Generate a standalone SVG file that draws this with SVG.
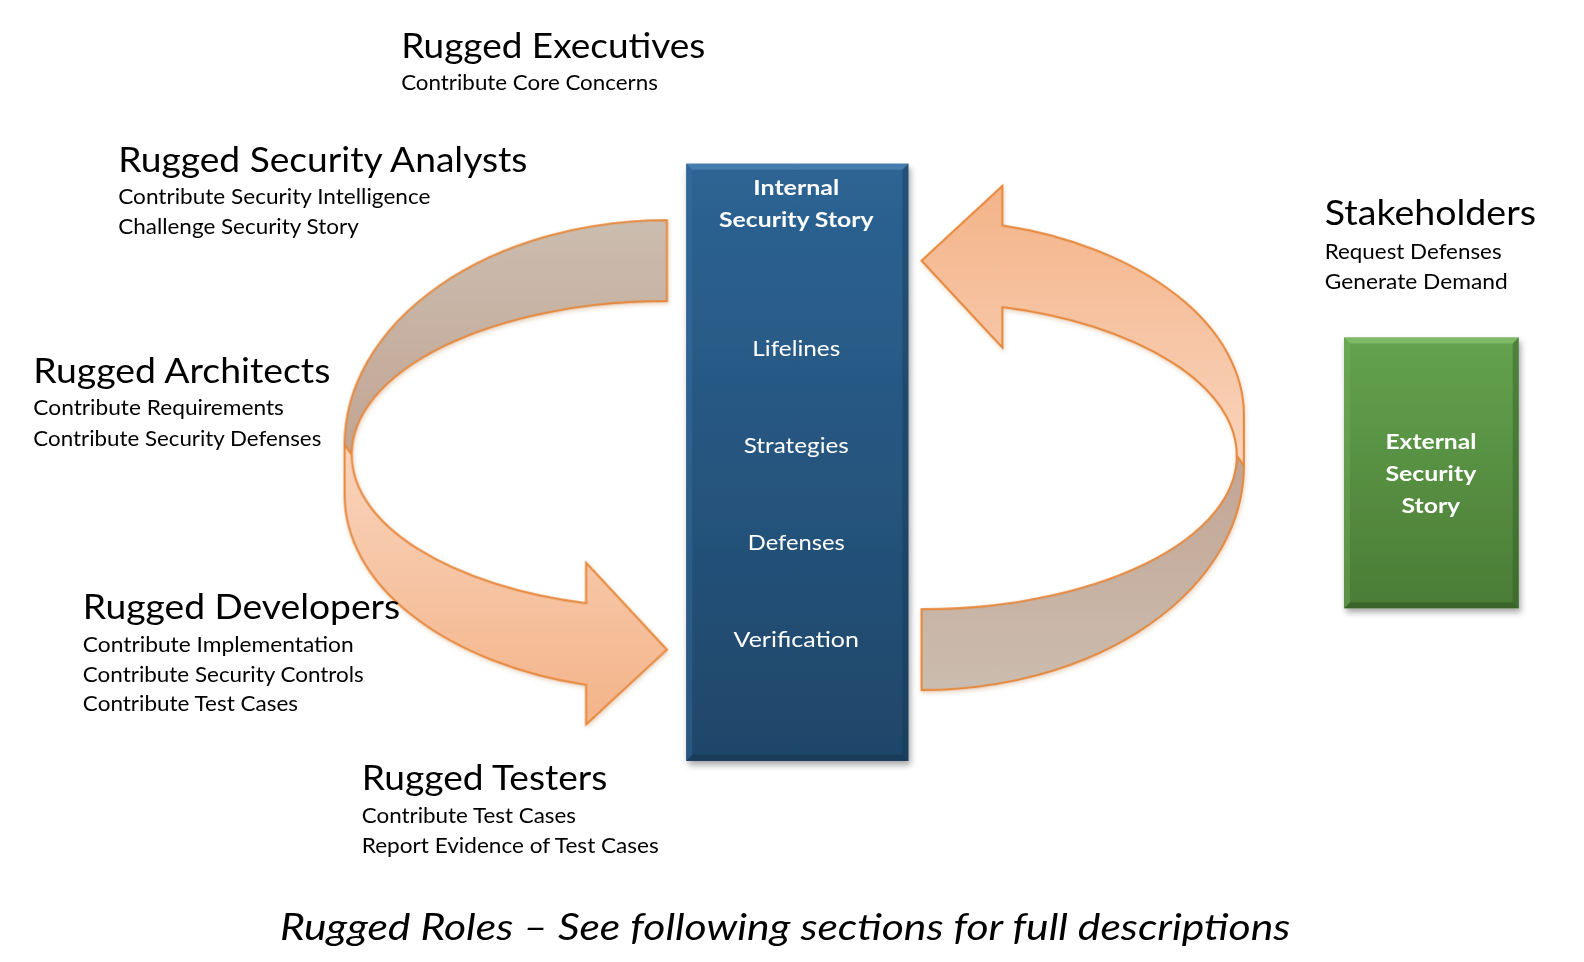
<svg xmlns="http://www.w3.org/2000/svg" width="1584" height="962" viewBox="0 0 1584 962">
<defs>
<style>
.t{font-family:Lato,"Open Sans","Liberation Sans",sans-serif;fill:#000}
.h{font-size:35px}
.s{font-size:21px}
.w{font-family:Lato,"Open Sans","Liberation Sans",sans-serif;fill:#fff;font-size:21px;text-anchor:middle}
.b{font-weight:bold}
.band{stroke:#e6883c;stroke-width:2;stroke-linejoin:miter}
</style>
<linearGradient id="gBack" x1="0" y1="0" x2="0" y2="1">
<stop offset="0" stop-color="#cbbdb0"/>
<stop offset="1" stop-color="#c3a593"/>
</linearGradient>
<linearGradient id="gFront" x1="0" y1="0" x2="0" y2="1">
<stop offset="0" stop-color="#f9d4bd"/>
<stop offset="1" stop-color="#f4b489"/>
</linearGradient>
<linearGradient id="gBlue" x1="0" y1="0" x2="0" y2="1">
<stop offset="0" stop-color="#2d6494"/>
<stop offset="1" stop-color="#1f4669"/>
</linearGradient>
<linearGradient id="gGreen" x1="0" y1="0" x2="0" y2="1">
<stop offset="0" stop-color="#64a24e"/>
<stop offset="1" stop-color="#4a7c36"/>
</linearGradient>
<filter id="sh" x="-10%" y="-10%" width="125%" height="125%">
<feDropShadow dx="2" dy="4" stdDeviation="3" flood-color="#000" flood-opacity="0.35"/>
</filter>
<filter id="ash" x="-10%" y="-10%" width="125%" height="125%">
<feDropShadow dx="1" dy="2" stdDeviation="2" flood-color="#a05a20" flood-opacity="0.25"/>
</filter>
<g id="arrowL">
<path class="band" fill="url(#gBack)" d="M660,218 A319,222 0 0 0 341,440 L348,450 A312,152 0 0 1 660,298 Z"/>
<path class="band" fill="url(#gFront)" d="M341,440 L341,490 A319,194 0 0 0 580,678 L580,717 L660,643 L580,557 L580,597 A312,152 0 0 1 348,450 Z"/>
</g>
</defs>

<g transform="scale(1.0105)">
<g id="connectors" filter="url(#ash)">
<use href="#arrowL"/>
<use href="#arrowL" transform="rotate(180 786 450.5)"/>
</g>

<g id="internal-story">
<rect x="679" y="162" width="220" height="591" fill="url(#gBlue)" filter="url(#sh)"/>
<polygon points="679,162 899,162 893,168 685,168" fill="#4a82b3" opacity="0.8"/>
<polygon points="679,753 899,753 893,747 685,747" fill="#163650" opacity="0.6"/>
<polygon points="679,162 685,168 685,747 679,753" fill="#3a74a6" opacity="0.4"/>
<polygon points="899,162 893,168 893,747 899,753" fill="#163650" opacity="0.4"/>
<text class="w b" x="788" y="193" textLength="85" lengthAdjust="spacingAndGlyphs">Internal</text>
<text class="w b" x="788" y="225" textLength="153" lengthAdjust="spacingAndGlyphs">Security Story</text>
<text class="w" x="788" y="352" textLength="87" lengthAdjust="spacingAndGlyphs">Lifelines</text>
<text class="w" x="788" y="448" textLength="104" lengthAdjust="spacingAndGlyphs">Strategies</text>
<text class="w" x="788" y="544" textLength="96" lengthAdjust="spacingAndGlyphs">Defenses</text>
<text class="w" x="788" y="640" textLength="124" lengthAdjust="spacingAndGlyphs">Verification</text>
</g>

<g id="external-story">
<rect x="1330" y="334" width="173" height="268" fill="url(#gGreen)" filter="url(#sh)"/>
<polygon points="1330,334 1503,334 1497,340 1336,340" fill="#86bf6e" opacity="0.8"/>
<polygon points="1330,602 1503,602 1497,596 1336,596" fill="#2f5522" opacity="0.6"/>
<polygon points="1330,334 1336,340 1336,596 1330,602" fill="#78b060" opacity="0.4"/>
<polygon points="1503,334 1497,340 1497,596 1503,602" fill="#2f5522" opacity="0.4"/>
<text class="w b" x="1416" y="444" textLength="90" lengthAdjust="spacingAndGlyphs">External</text>
<text class="w b" x="1416" y="476" textLength="90" lengthAdjust="spacingAndGlyphs">Security</text>
<text class="w b" x="1416" y="508" textLength="58" lengthAdjust="spacingAndGlyphs">Story</text>
</g>

<g id="executives">
<text class="t h" x="397" y="57" textLength="301" lengthAdjust="spacingAndGlyphs">Rugged Executives</text>
<text class="t s" x="397" y="89" textLength="254" lengthAdjust="spacingAndGlyphs">Contribute Core Concerns</text>
</g>

<g id="analysts">
<text class="t h" x="117" y="170" textLength="405" lengthAdjust="spacingAndGlyphs">Rugged Security Analysts</text>
<text class="t s" x="117" y="202" textLength="309" lengthAdjust="spacingAndGlyphs">Contribute Security Intelligence</text>
<text class="t s" x="117" y="232" textLength="238" lengthAdjust="spacingAndGlyphs">Challenge Security Story</text>
</g>

<g id="stakeholders">
<text class="t h" x="1311" y="223" textLength="209" lengthAdjust="spacingAndGlyphs">Stakeholders</text>
<text class="t s" x="1311" y="256" textLength="175" lengthAdjust="spacingAndGlyphs">Request Defenses</text>
<text class="t s" x="1311" y="286" textLength="181" lengthAdjust="spacingAndGlyphs">Generate Demand</text>
</g>

<g id="architects">
<text class="t h" x="33" y="379" textLength="294" lengthAdjust="spacingAndGlyphs">Rugged Architects</text>
<text class="t s" x="33" y="411" textLength="248" lengthAdjust="spacingAndGlyphs">Contribute Requirements</text>
<text class="t s" x="33" y="441" textLength="285" lengthAdjust="spacingAndGlyphs">Contribute Security Defenses</text>
</g>

<g id="developers">
<text class="t h" x="82" y="613" textLength="314" lengthAdjust="spacingAndGlyphs">Rugged Developers</text>
<text class="t s" x="82" y="645" textLength="268" lengthAdjust="spacingAndGlyphs">Contribute Implementation</text>
<text class="t s" x="82" y="675" textLength="278" lengthAdjust="spacingAndGlyphs">Contribute Security Controls</text>
<text class="t s" x="82" y="704" textLength="213" lengthAdjust="spacingAndGlyphs">Contribute Test Cases</text>
</g>

<g id="testers">
<text class="t h" x="358" y="782" textLength="243" lengthAdjust="spacingAndGlyphs">Rugged Testers</text>
<text class="t s" x="358" y="814" textLength="212" lengthAdjust="spacingAndGlyphs">Contribute Test Cases</text>
<text class="t s" x="358" y="844" textLength="294" lengthAdjust="spacingAndGlyphs">Report Evidence of Test Cases</text>
</g>

<g id="caption">
<text class="t" x="277" y="930" font-size="37" font-style="italic" textLength="1000" lengthAdjust="spacingAndGlyphs">Rugged Roles – See following sections for full descriptions</text>
</g>
</g>
</svg>
